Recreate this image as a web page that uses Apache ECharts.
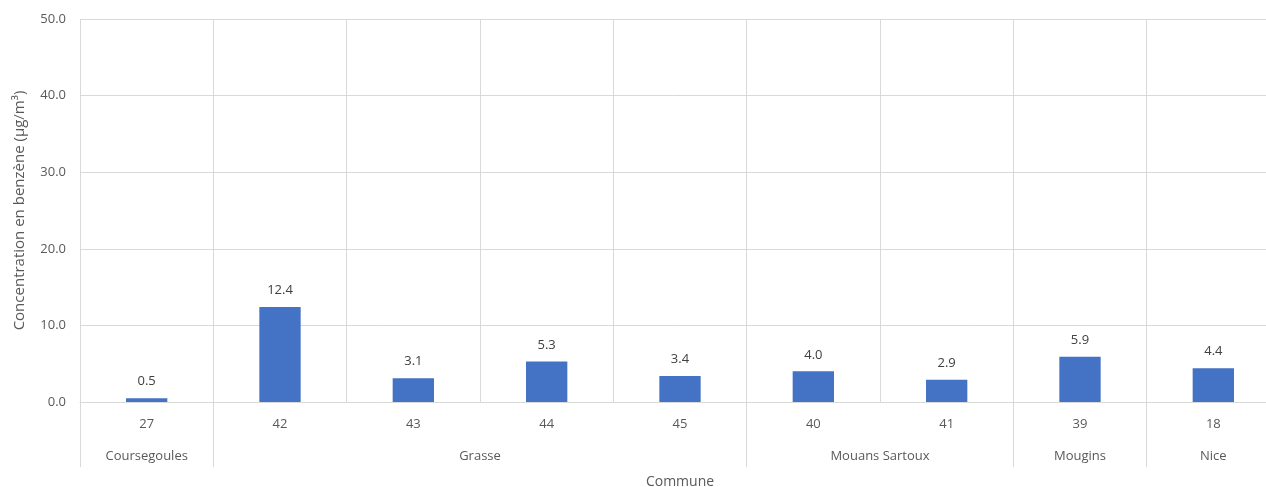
<!DOCTYPE html>
<html>
<head>
<meta charset="utf-8">
<script src="https://cdn.jsdelivr.net/npm/echarts@6/dist/echarts.min.js"></script>
<style>html,body{margin:0;padding:0;background:#fff;overflow:hidden;}#c{width:1266px;height:487px;}</style>
</head>
<body>
<div id="c"></div>
<script>
var codes = ['27', '42', '43', '44', '45', '40', '41', '39', '18'];
var values = [0.5, 12.4, 3.1, 5.3, 3.4, 4.0, 2.9, 5.9, 4.4];
var communes = ['Coursegoules', 'Grasse', 'Mouans Sartoux', 'Mougins', 'Nice'];
var communeSizes = [1, 4, 2, 1, 1];
var yTicks = [0, 10, 20, 30, 40, 50];

var boundaries = [0];
var centers = [];
communeSizes.forEach(function (n) {
  var start = boundaries[boundaries.length - 1];
  centers.push(start + n / 2);
  boundaries.push(start + n);
});

var textColor = '#595959';
var gridColor = '#d9d9d9';
var font = '"Open Sans", Lato, sans-serif';

var chart = echarts.init(document.getElementById('c'));
chart.setOption({
  animation: false,
  grid: { left: 80, top: 19, width: 1200, height: 383, containLabel: false, outerBoundsMode: 'none' },
  xAxis: [{
    type: 'category',
    data: codes,
    position: 'bottom',
    axisLine: { show: true, lineStyle: { color: gridColor, width: 1 } },
    axisTick: { show: false },
    splitLine: { show: true, interval: 0, lineStyle: { color: gridColor, width: 1 } },
    axisLabel: { interval: 0, color: textColor, fontSize: 13, fontFamily: font, margin: 16 }
  }, {
    type: 'value',
    min: 0,
    max: codes.length,
    position: 'bottom',
    axisLine: { show: false },
    splitLine: { show: false },
    axisTick: { show: true, customValues: boundaries, length: 65, lineStyle: { color: gridColor, width: 1 } },
    axisLabel: {
      customValues: centers,
      color: textColor, fontSize: 13, fontFamily: font, margin: 48,
      formatter: function (v) {
        for (var i = 0; i < centers.length; i++) if (Math.abs(centers[i] - v) < 1e-6) return communes[i];
        return '';
      }
    },
    name: 'Commune',
    nameLocation: 'middle',
    nameGap: 73,
    nameTextStyle: { color: textColor, fontSize: 14, fontFamily: font }
  }],
  yAxis: {
    type: 'value',
    min: yTicks[0],
    max: yTicks[yTicks.length - 1],
    interval: 10,
    axisLine: { show: false },
    axisTick: { show: false },
    splitLine: { show: true, lineStyle: { color: gridColor, width: 1 } },
    axisLabel: { color: textColor, fontSize: 13, fontFamily: font, margin: 14,
      formatter: function (v) { return v.toFixed(1); } },
    name: 'Concentration en benzène (µg/m³)',
    nameLocation: 'middle',
    nameGap: 53,
    nameTextStyle: { color: textColor, fontSize: 15, fontFamily: font }
  },
  series: [{
    type: 'bar',
    xAxisIndex: 0,
    data: values,
    barWidth: '31%',
    itemStyle: { color: '#4472C4' },
    label: {
      show: true, position: 'top', distance: 10,
      color: '#404040', fontSize: 13, fontFamily: font,
      formatter: function (p) { return p.value.toFixed(1); }
    }
  }]
});
</script>
</body>
</html>
